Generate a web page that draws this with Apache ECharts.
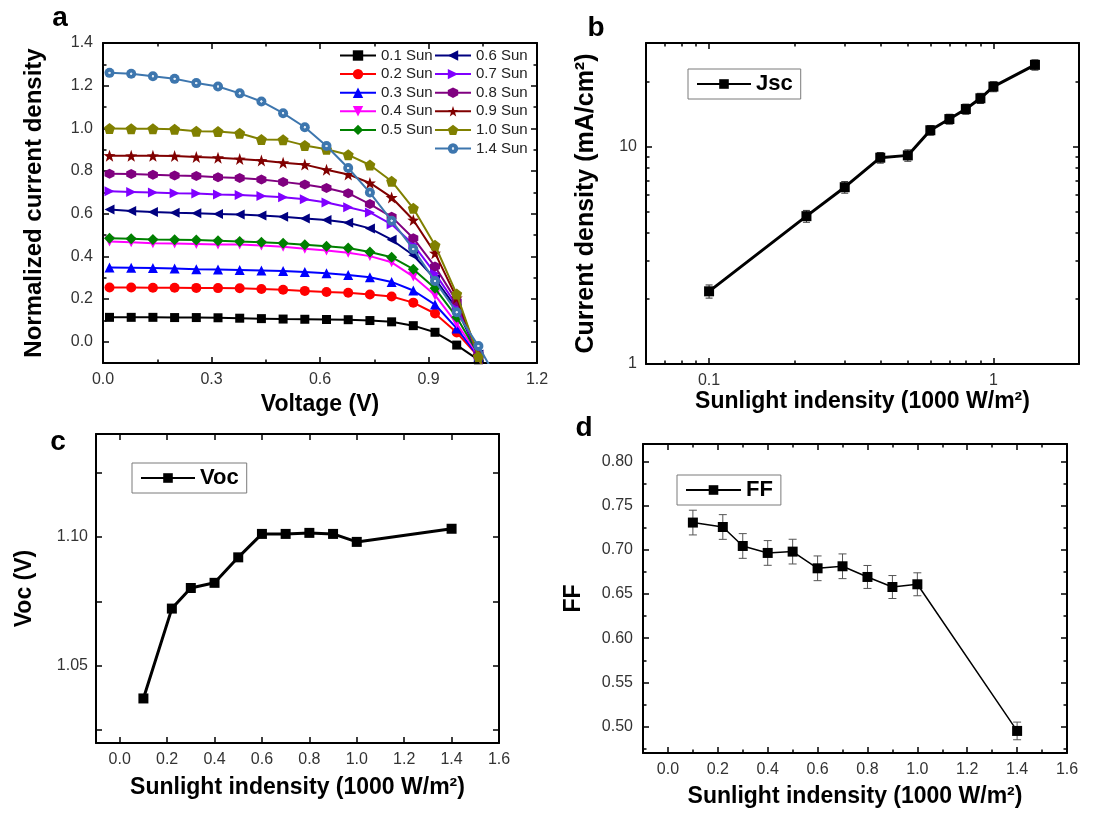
<!DOCTYPE html>
<html><head><meta charset="utf-8">
<script src="https://cdn.jsdelivr.net/npm/echarts@6/dist/echarts.min.js"></script>
<style>html,body{margin:0;padding:0;background:#fff}#chart{width:1105px;height:814px}</style>
</head><body><div id="chart"></div>
<script>
// ---------- Panel a : J-V curves ----------
const voltage = [0.018,0.078,0.138,0.198,0.258,0.318,0.378,0.438,0.498,0.558,0.618,0.678,0.738,0.798,0.858,0.918,0.978,1.038,1.098];
const sunLevels = ['0.1 Sun','0.2 Sun','0.3 Sun','0.4 Sun','0.5 Sun','0.6 Sun','0.7 Sun','0.8 Sun','0.9 Sun','1.0 Sun','1.4 Sun'];
const j01 = [0.114,0.114,0.114,0.113,0.113,0.112,0.110,0.108,0.106,0.105,0.104,0.103,0.099,0.093,0.075,0.044,-0.016,-0.085,-0.35];
const j02 = [0.254,0.254,0.253,0.253,0.252,0.251,0.250,0.247,0.243,0.238,0.233,0.229,0.221,0.212,0.183,0.132,0.043,-0.07,-0.35];
const j03 = [0.348,0.347,0.345,0.343,0.340,0.338,0.336,0.334,0.331,0.326,0.321,0.312,0.302,0.280,0.240,0.174,0.062,-0.07,-0.35];
const j04 = [0.470,0.466,0.461,0.460,0.458,0.456,0.455,0.451,0.445,0.436,0.427,0.417,0.401,0.372,0.305,0.218,0.085,-0.065,-0.35];
const j05 = [0.485,0.482,0.479,0.478,0.476,0.473,0.469,0.466,0.461,0.454,0.447,0.439,0.420,0.396,0.340,0.250,0.115,-0.06,-0.35];
const j06 = [0.619,0.613,0.608,0.604,0.602,0.599,0.596,0.591,0.585,0.577,0.570,0.557,0.531,0.478,0.405,0.295,0.155,-0.06,-0.35];
const j07 = [0.705,0.702,0.699,0.696,0.694,0.690,0.687,0.683,0.677,0.668,0.652,0.630,0.606,0.550,0.455,0.320,0.170,-0.06,-0.35];
const j08 = [0.787,0.786,0.783,0.779,0.776,0.771,0.767,0.760,0.749,0.737,0.720,0.696,0.645,0.585,0.485,0.352,0.190,-0.06,-0.35];
const j09 = [0.872,0.871,0.871,0.870,0.866,0.862,0.856,0.849,0.839,0.830,0.806,0.784,0.744,0.676,0.570,0.415,0.205,-0.065,-0.35];
const j10 = [0.999,0.998,0.998,0.996,0.986,0.985,0.977,0.948,0.946,0.920,0.902,0.876,0.828,0.752,0.625,0.452,0.223,-0.07,-0.35];
const j14 = [1.260,1.256,1.244,1.232,1.212,1.196,1.164,1.126,1.071,1.005,0.917,0.814,0.699,0.567,0.434,0.284,0.138,-0.02,-0.2];
const curves = [j01,j02,j03,j04,j05,j06,j07,j08,j09,j10,j14];

// ---------- Panels b, c, d ----------
const intensity = [0.1,0.22,0.3,0.4,0.5,0.6,0.7,0.8,0.9,1.0,1.4];
const jsc    = [2.16,4.79,6.51,8.90,9.12,11.9,13.4,14.9,16.7,18.9,23.8];
const jscErr = [0.15,0.30,0.40,0.50,0.55,0.60,0.70,0.80,0.90,1.00,1.30];
const voc    = [1.0373,1.0722,1.0802,1.0822,1.0921,1.1012,1.1012,1.1016,1.1012,1.0981,1.1032];
const vocErr = [0.0012,0.0012,0.0012,0.0012,0.0012,0.0012,0.0012,0.0012,0.0012,0.0012,0.0012];
const ff     = [0.731,0.726,0.7045,0.6966,0.6981,0.6792,0.6815,0.6694,0.658,0.6611,0.495];
const ffErr  = [0.014,0.014,0.014,0.014,0.014,0.014,0.014,0.013,0.013,0.013,0.010];

// ---------- tick labels ----------
const aXTicks = [0,0.3,0.6,0.9,1.2];
const aXMinor = [0.15,0.45,0.75,1.05];
const aYTicks = [0,0.2,0.4,0.6,0.8,1.0,1.2,1.4];
const aYMinor = [0.1,0.3,0.5,0.7,0.9,1.1,1.3];
const bXTicks = [0.1,1];
const bXMinor = [0.07,0.08,0.09,0.2,0.3,0.4,0.5,0.6,0.7,0.8,0.9,2];
const bYTicks = [1,10];
const bYMinor = [2,3,4,5,6,7,8,9,20];
const sunXTicks = [0,0.2,0.4,0.6,0.8,1.0,1.2,1.4,1.6];
const dXMinor = [0.1,0.3,0.5,0.7,0.9,1.1,1.3,1.5];
const cYTicks = [1.025,1.05,1.075,1.10,1.125];
const cYLabels = [1.05,1.10];
const dYTicks = [0.50,0.55,0.60,0.65,0.70,0.75,0.80];
const dYMinor = [0.475,0.525,0.575,0.625,0.675,0.725,0.775];

// ---------- styles ----------
const FONT = "'Liberation Sans', Arial, Helvetica, sans-serif";
const sunColors = ['#000000','#ff0000','#0000ff','#ff00ff','#008000','#000080','#8000ff','#800080','#800000','#808000','#3d76ae'];
const STAR = 'path://M0,-10L2.35,-3.24L9.51,-3.09L3.8,1.24L5.88,8.09L0,4L-5.88,8.09L-3.8,1.24L-9.51,-3.09L-2.35,-3.24Z';
const PENT = 'path://M0,-10L9.51,-3.09L5.88,8.09L-5.88,8.09L-9.51,-3.09Z';
const HEX  = 'path://M0,-10L8.66,-5L8.66,5L0,10L-8.66,5L-8.66,-5Z';
const sunSymbols = ['rect','circle','triangle','triangle','diamond','triangle','triangle',HEX,STAR,PENT,'circle'];
const sunRotate  = [0,0,0,180,0,90,-90,0,0,0,0];
const sunSizes   = [9,10,10,10,11,10,10,10,12,11,10];

const grids = [
  {left:103, top:43,  width:434, height:320},
  {left:646, top:43,  width:433, height:321},
  {left:96,  top:434, width:403, height:309},
  {left:643, top:444, width:424, height:309}
].map(g => Object.assign({containLabel:false, outerBoundsMode:'none'}, g));

function tickAxes(dim, gridIndex, cfg) {
  const sides = dim === 'x' ? ['bottom','top'] : ['left','right'];
  const out = [];
  sides.forEach((pos, si) => {
    [cfg.major, cfg.minor].forEach((vals, ti) => {
      if (!vals || !vals.length) return;
      const main = si === 0 && ti === 0;
      const ax = {
        type: cfg.type || 'value', gridIndex, position: pos, min: cfg.min, max: cfg.max,
        axisLine: {show: ti === 0, onZero: false, lineStyle: {color:'#000', width:2}},
        axisTick: {show:true, inside:true, length: ti === 0 ? 6 : 3.5, customValues: vals,
                   lineStyle:{color:'#000', width:1.5}},
        axisLabel: main ? {show:true, customValues: cfg.labels || cfg.major, formatter: cfg.fmt,
                   margin: cfg.margin, color:'#333', fontSize:16, fontFamily:FONT} : {show:false},
        splitLine:{show:false}, minorTick:{show:false}, silent:true
      };
      if (cfg.type === 'log') ax.logBase = 10;
      if (main && cfg.name) {
        Object.assign(ax, {name: cfg.name, nameLocation:'middle', nameGap: cfg.nameGap,
          nameRotate: dim === 'y' ? 90 : 0,
          nameTextStyle:{fontSize: cfg.nameSize || 23, fontWeight:'bold', color:'#000', fontFamily:FONT}});
      }
      out.push(ax);
    });
  });
  return out;
}
const xAxes = [], yAxes = [];
function add(list, arr) { const i = list.length; list.push(...arr); return i; }
const f1 = v => Number(v).toFixed(1), f2 = v => Number(v).toFixed(2), fs = v => String(v);
const SUN_NAME = 'Sunlight indensity (1000 W/m²)';

const xa = add(xAxes, tickAxes('x', 0, {min:0, max:1.2, major:aXTicks, minor:aXMinor, fmt:f1, margin:9, name:'Voltage (V)', nameGap:30, nameSize:23}));
const ya = add(yAxes, tickAxes('y', 0, {min:-0.1, max:1.4, major:aYTicks, minor:aYMinor, fmt:f1, margin:10, name:'Normalized current density', nameGap:57, nameSize:24}));
const xb = add(xAxes, tickAxes('x', 1, {type:'log', min:0.06, max:2, major:bXTicks, minor:bXMinor, fmt:fs, margin:9, name:SUN_NAME, nameGap:25}));
const yb = add(yAxes, tickAxes('y', 1, {type:'log', min:1, max:30, major:bYTicks, minor:bYMinor, fmt:fs, margin:9, name:'Current density (mA/cm²)', nameGap:47, nameSize:25}));
const xc = add(xAxes, tickAxes('x', 2, {min:-0.1, max:1.6, major:sunXTicks, fmt:f1, margin:9, name:SUN_NAME, nameGap:33}));
const yc = add(yAxes, tickAxes('y', 2, {min:1.02, max:1.14, major:cYTicks, labels:cYLabels, fmt:f2, margin:8, name:'Voc (V)', nameGap:60}));
const xd = add(xAxes, tickAxes('x', 3, {min:-0.1, max:1.6, major:sunXTicks, minor:dXMinor, fmt:f1, margin:9, name:SUN_NAME, nameGap:32}));
const yd = add(yAxes, tickAxes('y', 3, {min:0.47, max:0.82, major:dYTicks, minor:dYMinor, fmt:f2, margin:10, name:'FF', nameGap:58}));

const series = [];
sunLevels.forEach((name, k) => {
  const col = sunColors[k];
  const itemColor = name === '1.4 Sun'
    ? {type:'radial', x:0.5, y:0.5, r:0.5, colorStops:[{offset:0,color:'#dfeaf5'},{offset:0.18,color:'#dfeaf5'},{offset:0.3,color:col},{offset:1,color:col}]}
    : col;
  series.push({
    type:'line', name, xAxisIndex:xa, yAxisIndex:ya,
    data: voltage.map((v, i) => [v, curves[k][i]]),
    symbol: sunSymbols[k], symbolRotate: sunRotate[k], symbolSize: sunSizes[k], showSymbol:true,
    lineStyle:{color:col, width:2}, itemStyle:{color:itemColor, borderWidth:0},
    clip:true, z:2 + k, animation:false
  });
});

function errSeries(name, xi, yi, xs, ys, es, color, cap) {
  return {
    type:'custom', name, xAxisIndex:xi, yAxisIndex:yi, z:1, silent:true, animation:false,
    encode:{x:0, y:[1,2]},
    data: xs.map((x, i) => [x, ys[i] - es[i], ys[i] + es[i]]),
    renderItem(params, api) {
      const x = api.value(0);
      const lo = api.coord([x, api.value(1)]), hi = api.coord([x, api.value(2)]);
      const st = {stroke:color, lineWidth:1};
      return {type:'group', children:[
        {type:'line', shape:{x1:lo[0], y1:lo[1], x2:hi[0], y2:hi[1]}, style:st},
        {type:'line', shape:{x1:lo[0]-cap, y1:lo[1], x2:lo[0]+cap, y2:lo[1]}, style:st},
        {type:'line', shape:{x1:hi[0]-cap, y1:hi[1], x2:hi[0]+cap, y2:hi[1]}, style:st}
      ]};
    }
  };
}
function mainSeries(name, xi, yi, xs, ys, width) {
  return {type:'line', name, xAxisIndex:xi, yAxisIndex:yi, data: xs.map((x, i) => [x, ys[i]]),
    symbol:'rect', symbolSize:10, lineStyle:{color:'#000', width}, itemStyle:{color:'#000'}, z:3, animation:false};
}
series.push(errSeries('JscErr', xb, yb, intensity, jsc, jscErr, '#333', 3.5));
series.push(mainSeries('Jsc', xb, yb, intensity, jsc, 3));
series.push(errSeries('VocErr', xc, yc, intensity, voc, vocErr, '#333', 3.5));
series.push(mainSeries('Voc', xc, yc, intensity, voc, 3));
series.push(errSeries('FFErr', xd, yd, intensity, ff, ffErr, '#555', 4));
series.push(mainSeries('FF', xd, yd, intensity, ff, 1.5));

const sunLegend = (data, left) => ({data, left, top:48, orient:'vertical', itemWidth:36, itemHeight:13, itemGap:3.6,
  padding:0, selectedMode:false, textStyle:{fontSize:15, color:'#222', fontFamily:FONT}});
const boxLegend = (name, left, top, w) => ({data:[name], left, top, itemWidth:w, itemHeight:12, padding:[4,8,4,8],
  selectedMode:false, backgroundColor:'#fff', borderColor:'#7a7a7a', borderWidth:1,
  textStyle:{fontSize:22, fontWeight:'bold', color:'#000', fontFamily:FONT}});

const letter = (t, x, y) => ({type:'text', x, y, style:{text:t, fill:'#000', font:'bold 28px ' + FONT, align:'center', verticalAlign:'middle', textAlign:'center', textVerticalAlign:'middle'}});

const chart = echarts.init(document.getElementById('chart'), null, {renderer:'canvas'});
chart.setOption({
  animation:false, backgroundColor:'#fff',
  grid: grids, xAxis: xAxes, yAxis: yAxes, series,
  legend: [
    sunLegend(sunLevels.slice(0,5), 339),
    sunLegend(sunLevels.slice(5), 434),
    boxLegend('Jsc', 688, 69, 54),
    boxLegend('Voc', 132, 463, 54),
    boxLegend('FF', 677, 475, 55)
  ],
  graphic: [letter('a', 60, 18), letter('b', 596, 28), letter('c', 58, 442), letter('d', 584, 428)]
});
</script></body></html>
